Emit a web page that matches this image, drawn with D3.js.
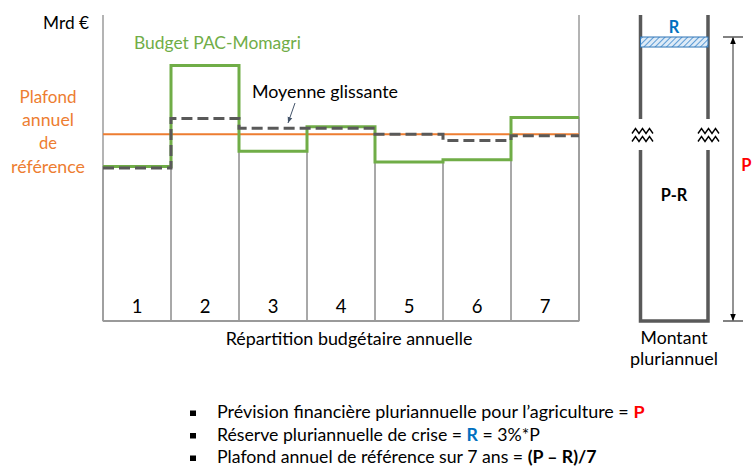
<!DOCTYPE html>
<html>
<head>
<meta charset="utf-8">
<script src="https://cdn.jsdelivr.net/npm/d3@7"></script>
<style>
  body { margin: 0; background: #fff; }
  svg { display: block; font-family: Lato, "Open Sans", sans-serif; }
  text { white-space: pre; }
</style>
</head>
<body>
<div id="chart"></div>
<script>
// annual budget split (Mrd €, no scale shown)
const years = [1, 2, 3, 4, 5, 6, 7];
const budget = [5.05, 8.35, 5.55, 6.35, 5.2, 5.27, 6.65];
const moyenne = [5.0, 6.62, 6.3, 6.3, 6.1, 5.9, 6.05];
const plafond = 6.1;
// multi-year envelope
const prevision = 100;   // P
const reserve = 3;       // R = 3%*P
const plafondLines = ["Plafond", "annuel", "de", "référence"];
const bulletLines = [
  [{t: "Prévision financière pluriannuelle pour l’agriculture = "}, {t: "P", c: "#ff0000", b: 1}],
  [{t: "Réserve pluriannuelle de crise = "}, {t: "R", c: "#0070c0", b: 1}, {t: " = 3%*P"}],
  [{t: "Plafond annuel de référence sur 7 ans = "}, {t: "(P – R)/7", b: 1}]
];

const width = 753, height = 468;
const svg = d3.select("#chart").append("svg")
  .attr("width", width).attr("height", height);
svg.append("rect").attr("width", width).attr("height", height).attr("fill", "#fff");

const defs = svg.append("defs");
defs.append("pattern").attr("id", "hatch")
  .attr("patternUnits", "userSpaceOnUse").attr("width", 4).attr("height", 4)
  .attr("patternTransform", "rotate(45)")
  .call(p => {
    p.append("rect").attr("width", 4).attr("height", 4).attr("fill", "#deebf7");
    p.append("line").attr("x1", 0).attr("y1", 0).attr("x2", 0).attr("y2", 4)
      .attr("stroke", "#5b9bd5").attr("stroke-width", 2);
  });
["start", "end"].forEach(k => {
  defs.append("marker").attr("id", "arr-" + k)
    .attr("viewBox", "0 0 10 10").attr("refX", 10).attr("refY", 5)
    .attr("markerWidth", 7).attr("markerHeight", 7)
    .attr("orient", k == "end" ? "auto" : "auto-start-reverse")
    .attr("markerUnits", "userSpaceOnUse")
    .append("path").attr("d", "M0,1 L10,5 L0,9 Z").attr("fill", "#000");
});
defs.append("marker").attr("id", "arr-small")
  .attr("viewBox", "0 0 10 10").attr("refX", 10).attr("refY", 5)
  .attr("markerWidth", 6).attr("markerHeight", 6).attr("orient", "auto")
  .attr("markerUnits", "userSpaceOnUse")
  .append("path").attr("d", "M0,1 L10,5 L0,9 Z").attr("fill", "#44546a");

// fit a text to a given width by scaling its font size
function fit(sel, w) {
  const cur = sel.node().getComputedTextLength();
  const fs = parseFloat(sel.attr("font-size"));
  sel.attr("font-size", fs * w / cur);
  return sel;
}

// ---- left chart ----
const yTop = 15, yBottom = 321;
const x = d3.scaleBand().domain(years).range([103, 579]).padding(0);
const y = d3.scaleLinear().domain([0, 10]).range([yBottom, yTop]);

// columns
svg.append("g").selectAll("rect")
  .data(years)
  .join("rect")
    .attr("x", d => x(d))
    .attr("y", (d, i) => y(budget[i]))
    .attr("width", x.bandwidth())
    .attr("height", (d, i) => yBottom - y(budget[i]))
    .attr("fill", "none")
    .attr("stroke", "#8c8c8c")
    .attr("stroke-width", 1);

// frame
svg.append("line").attr("x1", x.range()[0]).attr("x2", x.range()[0])
  .attr("y1", yTop).attr("y2", yBottom).attr("stroke", "#8c8c8c").attr("stroke-width", 1.3);
svg.append("line").attr("x1", x.range()[1]).attr("x2", x.range()[1])
  .attr("y1", yTop).attr("y2", yBottom).attr("stroke", "#8c8c8c").attr("stroke-width", 1.3);
svg.append("line").attr("x1", x.range()[0]).attr("x2", x.range()[1])
  .attr("y1", yBottom).attr("y2", yBottom).attr("stroke", "#9a9a9a").attr("stroke-width", 2);

// column numbers
svg.append("g").selectAll("text")
  .data(years)
  .join("text")
    .attr("x", d => x(d) + x.bandwidth() / 2)
    .attr("y", 312.5)
    .attr("text-anchor", "middle")
    .attr("font-size", 18.5)
    .attr("fill", "#000")
    .text(d => d);

function stepPath(vals) {
  const pts = years.map((d, i) => [x(d), y(vals[i])]);
  pts.push([x.range()[1], y(vals[vals.length - 1])]);
  return d3.line().curve(d3.curveStepAfter)(pts);
}

// reference ceiling
svg.append("line")
  .attr("x1", x.range()[0]).attr("x2", x.range()[1])
  .attr("y1", y(plafond)).attr("y2", y(plafond))
  .attr("stroke", "#ed7d31").attr("stroke-width", 2);

svg.append("path").attr("d", stepPath(budget))
  .attr("fill", "none").attr("stroke", "#70ad47").attr("stroke-width", 3);
svg.append("path").attr("d", stepPath(moyenne))
  .attr("fill", "none").attr("stroke", "#595959").attr("stroke-width", 3)
  .attr("stroke-dasharray", "11,5");

// labels
fit(svg.append("text").attr("x", 89).attr("y", 28.5).attr("text-anchor", "end")
  .attr("font-size", 17).attr("fill", "#000").text("Mrd €"), 46);
fit(svg.append("text").attr("x", 134).attr("y", 49)
  .attr("font-size", 17).attr("fill", "#70ad47").text("Budget PAC-Momagri"), 167);
fit(svg.append("text").attr("x", 252).attr("y", 97.5)
  .attr("font-size", 17).attr("fill", "#000").text("Moyenne glissante"), 146);
svg.append("line").attr("x1", 295).attr("y1", 103).attr("x2", 288).attr("y2", 123)
  .attr("stroke", "#44546a").attr("stroke-width", 1).attr("marker-end", "url(#arr-small)");

const plafondWidths = [57, 52, 18, 74];
plafondLines.forEach((t, i) => {
  fit(svg.append("text").attr("x", 48).attr("y", 102.5 + i * 23.4)
    .attr("text-anchor", "middle").attr("font-size", 17).attr("fill", "#ed7d31").text(t),
    plafondWidths[i]);
});

fit(svg.append("text").attr("x", 349).attr("y", 345).attr("text-anchor", "middle")
  .attr("font-size", 16).attr("fill", "#000").text("Répartition budgétaire annuelle"), 247);

// ---- right panel: multi-year envelope ----
const colL = 640.5, colR = 708, brk0 = 119, brk1 = 150;
const yP = d3.scaleLinear().domain([0, prevision]).range([yBottom, 37]);

const wall = svg.append("g").attr("stroke", "#595959").attr("stroke-width", 3.5).attr("fill", "none");
[colL, colR].forEach(cx => {
  wall.append("line").attr("x1", cx).attr("x2", cx).attr("y1", yTop).attr("y2", brk0);
});
wall.append("path")
  .attr("d", `M${colL},${brk1}V${yBottom}H${colR}V${brk1}`);

// break marks
function zig(x0, yy) {
  let d = `M${x0},${yy + 2.5}`;
  for (let k = 0; k < 3; k++) {
    d += `L${x0 + k * 7 + 3.5},${yy - 2.5}L${x0 + k * 7 + 7},${yy + 2.5}`;
  }
  return d;
}
const zz = svg.append("g").attr("stroke", "#000").attr("stroke-width", 1.4).attr("fill", "none");
[632, 698].forEach(x0 => {
  zz.append("path").attr("d", zig(x0, 131));
  zz.append("path").attr("d", zig(x0, 139));
});

// reserve R
svg.append("rect")
  .attr("x", colL).attr("y", yP(prevision))
  .attr("width", colR - colL).attr("height", yP(prevision - reserve) - yP(prevision) + 1.5)
  .attr("fill", "url(#hatch)").attr("stroke", "#2e75b6").attr("stroke-width", 1);
fit(svg.append("text").attr("x", 674).attr("y", 32.5).attr("text-anchor", "middle")
  .attr("font-size", 16).attr("font-weight", "bold").attr("fill", "#0070c0").text("R"), 10.5);
fit(svg.append("text").attr("x", 674).attr("y", 201).attr("text-anchor", "middle")
  .attr("font-size", 16).attr("font-weight", "bold").attr("fill", "#000").text("P-R"), 26.5);

// dimension P
const ax = 733;
svg.append("line").attr("x1", ax).attr("x2", ax)
  .attr("y1", yP(0)).attr("y2", yP(prevision))
  .attr("stroke", "#595959").attr("stroke-width", 1.3)
  .attr("marker-start", "url(#arr-start)").attr("marker-end", "url(#arr-end)");
[yP(0), yP(prevision)].forEach(yy => {
  svg.append("line").attr("x1", 723).attr("x2", 743).attr("y1", yy).attr("y2", yy)
    .attr("stroke", "#595959").attr("stroke-width", 1.5);
});
svg.append("text").attr("x", 751.5).attr("y", 171).attr("text-anchor", "end")
  .attr("font-size", 16.5).attr("font-weight", "bold").attr("fill", "#ff0000").text("P");

fit(svg.append("text").attr("x", 674).attr("y", 344).attr("text-anchor", "middle")
  .attr("font-size", 16).attr("fill", "#000").text("Montant"), 67);
fit(svg.append("text").attr("x", 674).attr("y", 365).attr("text-anchor", "middle")
  .attr("font-size", 16).attr("fill", "#000").text("pluriannuel"), 88);

// ---- bullet notes ----
const bulletWidths = [428, 323, 380];
bulletLines.forEach((segs, i) => {
  const by = 418 + i * 22.5;
  svg.append("rect").attr("x", 190).attr("y", by - 7.5).attr("width", 6).attr("height", 5.5).attr("fill", "#000");
  const t = svg.append("text").attr("x", 217).attr("y", by).attr("font-size", 15).attr("fill", "#000");
  segs.forEach(s => {
    t.append("tspan").text(s.t)
      .attr("fill", s.c || "#000")
      .attr("font-weight", s.b ? "bold" : "normal");
  });
  fit(t, bulletWidths[i]);
});
</script>
</body>
</html>
